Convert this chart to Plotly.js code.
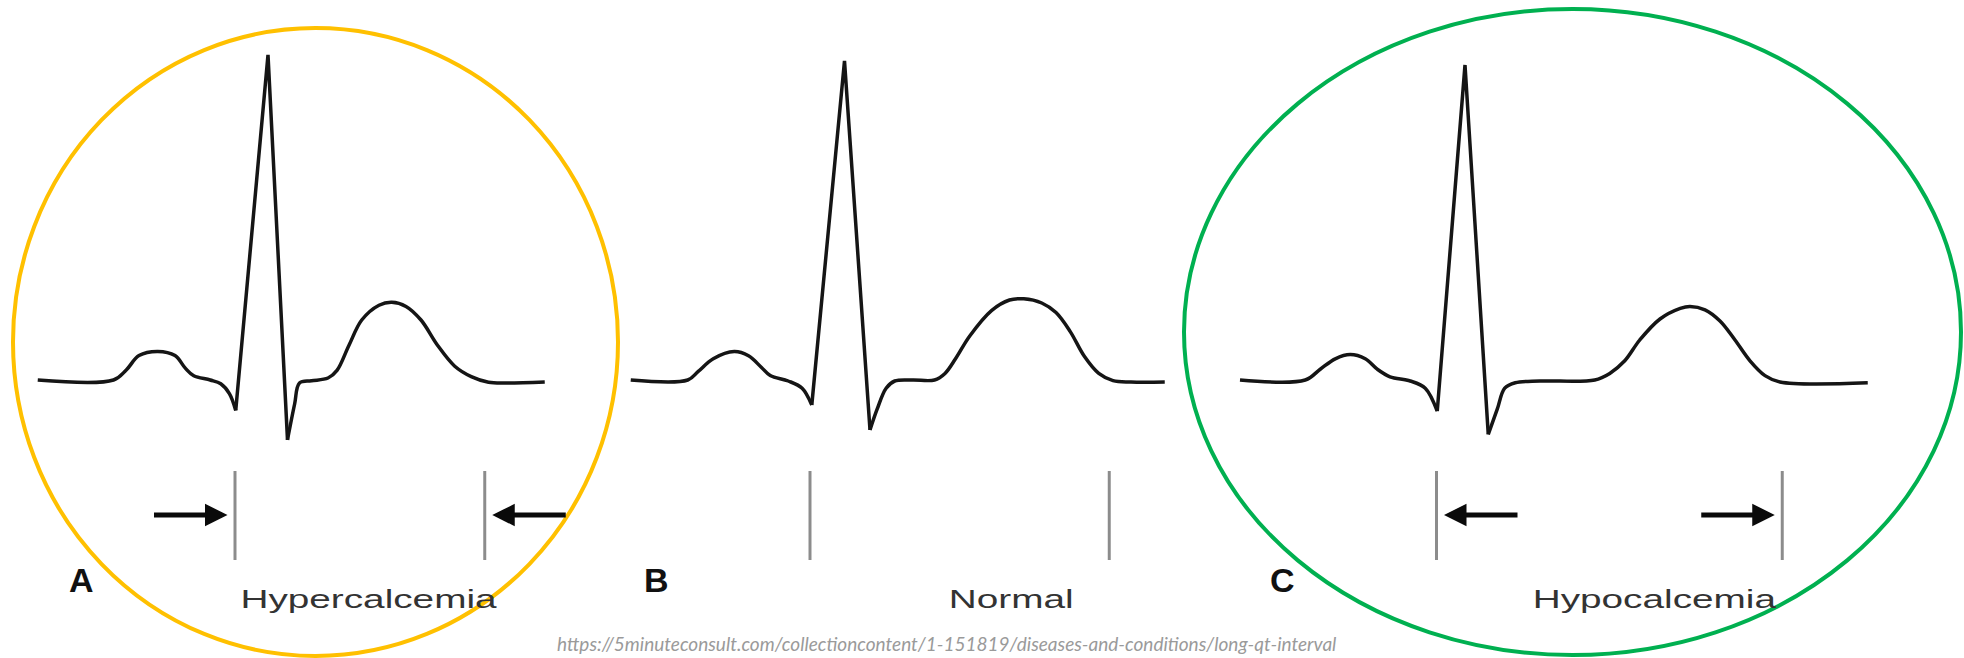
<!DOCTYPE html>
<html>
<head>
<meta charset="utf-8">
<script src="https://cdn.plot.ly/plotly-3.0.1.min.js"></script>
<style>
  html, body { margin: 0; padding: 0; background: #ffffff; }
  #chart { width: 1964px; height: 658px; }
  .annotation[data-index="3"] .annotation-text,
  .annotation[data-index="4"] .annotation-text,
  .annotation[data-index="5"] .annotation-text {
    transform-box: fill-box; transform-origin: center; transform: scaleX(1.55);
  }
</style>
</head>
<body>
<div id="chart"></div>
<script>
// ---- Data: time in ms relative to QRS onset (Q), voltage in mV ----
const panelLetters = ['A', 'B', 'C'];
const conditionLabels = ['Hypercalcemia', 'Normal', 'Hypocalcemia'];
const sourceText = 'https://5minuteconsult.com/collectioncontent/1-151819/diseases-and-conditions/long-qt-interval';

const timeA = [-263,-162,-145,-128,-103,-80,-66,-55,-33,-19,-7.5,1,44,70,79.5,86,102,124,136,152,169,192,209,228,248,270,293,315,338,360,413];
const voltA = [0,0,0.05,0.122,0.143,0.122,0.058,0.021,0,-0.019,-0.068,-0.152,1.626,-0.299,-0.12,-0.015,-0.004,0.01,0.048,0.174,0.30,0.374,0.389,0.368,0.30,0.174,0.069,0.017,-0.011,-0.015,-0.01];

const timeB = [-239,-163,-149,-129,-101,-82,-65,-53,-29,-10.5,2.4,46,80,89.5,101.5,113,137,166,180,194,213,242,266,285,309,328,347,366,385,404,428,473];
const voltB = [0,0,0.043,0.106,0.142,0.121,0.064,0.022,-0.005,-0.041,-0.125,1.596,-0.25,-0.146,-0.041,-0.005,0,0,0.033,0.106,0.22,0.347,0.40,0.406,0.385,0.337,0.242,0.117,0.033,-0.003,-0.01,-0.01];

const timeC = [-262,-175,-155,-135,-115,-95,-79,-62,-35,-15,1,38,69,81,91,105,138,211,231,251,271,298,325,338,358,378,398,418,438,458,575];
const voltC = [0,0,0.054,0.106,0.127,0.106,0.054,0.016,-0.005,-0.041,-0.156,1.575,-0.272,-0.146,-0.041,-0.014,-0.005,0,0.033,0.096,0.20,0.305,0.358,0.368,0.351,0.295,0.20,0.096,0.022,-0.01,-0.014];

// QT interval markers (ms): start and end of QT for each panel
const qtStart = [0, 0, 0];
const qtEnd = [333, 399, 461];
// arrow direction per panel: -1 = shortened (arrows point inward), 0 = none, +1 = prolonged (arrows point outward)
const qtChange = [-1, 0, 1];

// ---- Layout helpers ----
const W = 1964, H = 658;
const pxPerMs = 0.75;
const pxPerMv = 200;
const baselinePx = 380;
// panel pixel extents and QRS onset pixel
const panelPx = [[0, 590, 235], [590, 1200, 810], [1200, 1964, 1436.5]];

const times = [timeA, timeB, timeC];
const volts = [voltA, voltB, voltC];
const axNames = ['x', 'x2', 'x3'];

const traces = [];
times.forEach((t, i) => {
  const v = volts[i];
  const r = v.indexOf(Math.max(...v));          // R peak
  const pieces = [
    [0, r, 'spline'],        // baseline, P wave, PR, down to Q
    [r - 1, r + 2, 'linear'],// Q-R-S complex (straight strokes)
    [r + 1, t.length, 'spline'] // S recovery, ST, T wave
  ];
  pieces.forEach(([a, b, shape]) => {
    traces.push({
      type: 'scatter', mode: 'lines',
      x: t.slice(a, b), y: v.slice(a, b), xaxis: axNames[i], yaxis: 'y',
      line: { color: '#151515', width: 3.5, shape: shape, smoothing: 1 },
      hoverinfo: 'skip', showlegend: false, cliponaxis: false
    });
  });
});

const layout = {
  width: W, height: H,
  margin: { l: 0, r: 0, t: 0, b: 0, pad: 0 },
  paper_bgcolor: '#ffffff', plot_bgcolor: '#ffffff',
  showlegend: false,
  yaxis: { range: [(baselinePx - H) / pxPerMv, baselinePx / pxPerMv], visible: false, fixedrange: true },
  shapes: [], annotations: []
};

panelPx.forEach((p, i) => {
  const key = i === 0 ? 'xaxis' : 'xaxis' + (i + 1);
  layout[key] = {
    domain: [p[0] / W, p[1] / W],
    range: [(p[0] - p[2]) / pxPerMs, (p[1] - p[2]) / pxPerMs],
    visible: false, fixedrange: true, anchor: 'y'
  };
});

// Ellipses
layout.shapes.push({ type: 'circle', xref: 'paper', yref: 'paper', x0: 13 / W, x1: 618 / W, y0: 1 - 656 / H, y1: 1 - 28 / H, line: { color: '#FFC000', width: 4 }, layer: 'above' });
layout.shapes.push({ type: 'circle', xref: 'paper', yref: 'paper', x0: 1184 / W, x1: 1961 / W, y0: 1 - 655 / H, y1: 1 - 9 / H, line: { color: '#00B050', width: 4 }, layer: 'above' });

// QT marker lines
const markTop = (baselinePx - 471) / pxPerMv, markBot = (baselinePx - 560) / pxPerMv;
[qtStart, qtEnd].forEach(arr => arr.forEach((q, i) => {
  layout.shapes.push({ type: 'line', xref: axNames[i], yref: 'y', x0: q, x1: q, y0: markTop, y1: markBot, line: { color: '#8c8c8c', width: 3 }, layer: 'below' });
}));

// Letters (annotations 0-2)
panelLetters.forEach((l, i) => {
  layout.annotations.push({ xref: axNames[i], yref: 'y', x: -205, y: (baselinePx - 580) / pxPerMv, text: l, showarrow: false,
    font: { family: 'Liberation Sans, Arial, sans-serif', size: 34, color: '#111', weight: 'bold' }, xanchor: 'center', yanchor: 'middle' });
});
// Condition names (annotations 3-5)
const nameCenters = [178, 269, 291];
conditionLabels.forEach((l, i) => {
  layout.annotations.push({ xref: axNames[i], yref: 'y', x: nameCenters[i], y: (baselinePx - 599) / pxPerMv, text: l, showarrow: false,
    font: { family: 'Liberation Sans, Arial, sans-serif', size: 25, color: '#333333' }, xanchor: 'center', yanchor: 'middle' });
});
// Source URL (annotation 6)
layout.annotations.push({ xref: 'paper', yref: 'paper', x: 946 / W, y: 1 - 643 / H, text: sourceText, showarrow: false,
  font: { family: 'Lato, Open Sans, sans-serif', size: 19, color: '#9a9a9a', style: 'italic' }, xanchor: 'center', yanchor: 'middle' });

// Arrows
const arrowGap = 10, arrowLen = 100, arrowY = (baselinePx - 515) / pxPerMv;
qtChange.forEach((c, i) => {
  if (c === 0) return;
  const startHead = qtStart[i] + c * arrowGap;
  const endHead = qtEnd[i] - c * arrowGap;
  const ends = [[startHead, startHead + c * arrowLen], [endHead, endHead - c * arrowLen]];
  ends.forEach(([head, tail]) => {
    layout.annotations.push({ xref: axNames[i], yref: 'y', axref: axNames[i], ayref: 'y',
      x: head, y: arrowY, ax: tail, ay: arrowY, text: '', showarrow: true,
      arrowhead: 2, arrowsize: 0.9, arrowwidth: 5, arrowcolor: '#0a0a0a', standoff: 0, startstandoff: 0 });
  });
});

Plotly.newPlot('chart', traces, layout, { displayModeBar: false, staticPlot: true });
</script>
</body>
</html>
